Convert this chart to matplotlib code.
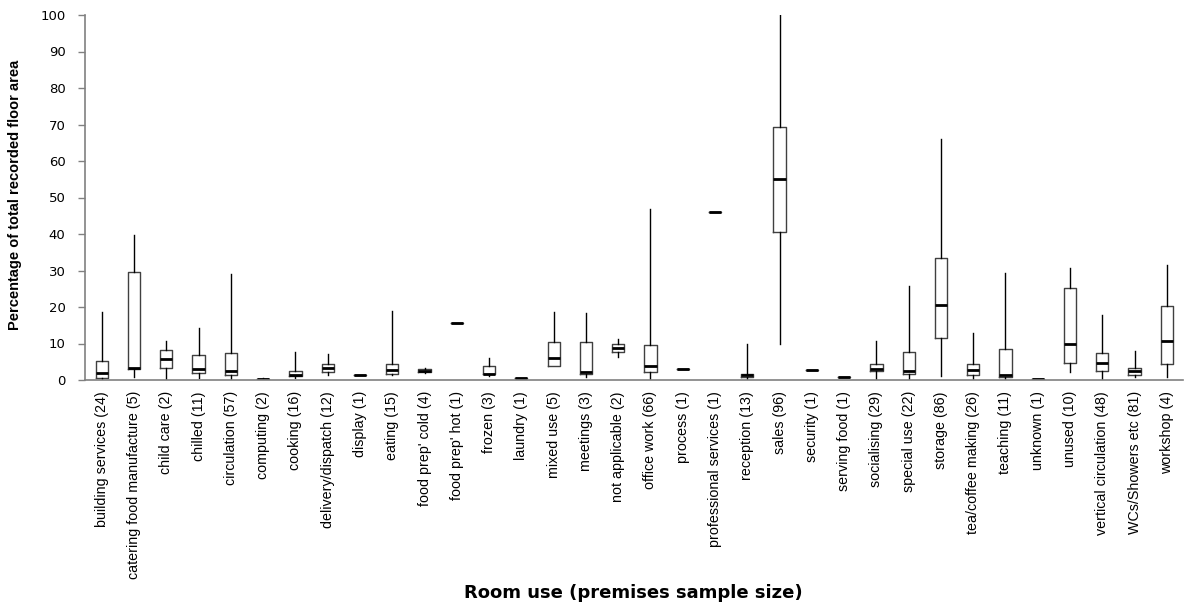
import matplotlib
matplotlib.use("Agg")
import matplotlib.pyplot as plt

categories = ["building services (24)", "catering food manufacture (5)", "child care (2)",
              "chilled (11)", "circulation (57)", "computing (2)", "cooking (16)",
              "delivery/dispatch (12)", "display (1)", "eating (15)", "food prep' cold (4)",
              "food prep' hot (1)", "frozen (3)", "laundry (1)", "mixed use (5)", "meetings (3)",
              "not applicable (2)", "office work (66)", "process (1)", "professional services (1)",
              "reception (13)", "sales (96)", "security (1)", "serving food (1)", "socialising (29)",
              "special use (22)", "storage (86)", "tea/coffee making (26)", "teaching (11)",
              "unknown (1)", "unused (10)", "vertical circulation (48)", "WCs/Showers etc (81)",
              "workshop (4)"]

whisker_low = [0.3, 0.9, 0.2, 0.6, 0.3, 0.1, 0.5, 1.4, 1.3, 1.5, 1.9, 15.6, 1.0, 0.64, 3.7, 0.7,
               6.3, 0.3, 3.1, 46.1, 0.1, 9.75, 2.7, 0.8, 0.3, 0.3, 1.1, 0.3, 0.3, 0.3, 2.3, 0.3,
               0.7, 0.9]
q1 = [0.6, 3.0, 3.2, 2.0, 1.5, 0.15, 1.2, 2.2, 1.3, 1.7, 2.3, 15.6, 1.55, 0.64, 3.9, 1.55,
      7.7, 2.2, 3.1, 46.1, 0.9, 40.6, 2.7, 0.8, 2.6, 1.55, 11.4, 1.4, 0.8, 0.3, 4.6, 2.5,
      1.4, 4.4]
median = [1.9, 3.3, 5.75, 3.0, 2.5, 0.3, 1.5, 3.3, 1.3, 2.8, 2.6, 15.6, 1.7, 0.64, 6.1, 2.1,
          8.9, 3.9, 3.1, 46.1, 1.3, 55.0, 2.7, 0.8, 2.9, 2.5, 20.5, 2.7, 1.3, 0.3, 9.75, 4.75,
          2.5, 10.8]
q3 = [5.2, 29.7, 8.2, 6.8, 7.5, 0.4, 2.6, 4.3, 1.3, 4.5, 3.0, 15.6, 3.75, 0.64, 10.5, 10.3,
      10.0, 9.6, 3.1, 46.1, 1.6, 69.3, 2.7, 0.8, 4.5, 7.8, 33.3, 4.5, 8.6, 0.3, 25.1, 7.5,
      3.4, 20.2]
whisker_high = [18.5, 39.6, 10.8, 14.3, 29.0, 0.5, 7.7, 7.1, 1.3, 18.9, 3.3, 15.6, 5.9, 0.64,
                18.5, 18.4, 11.1, 46.8, 3.1, 46.1, 10.0, 100.0, 2.7, 0.8, 10.8, 25.7, 65.9,
                13.0, 29.4, 0.3, 30.6, 17.7, 7.9, 31.4]

y_ticks = list(range(0, 101, 10))

W, H = 1185, 604
fig = plt.figure(figsize=(W / 100, H / 100), dpi=100)
ax = fig.add_axes([85 / W, 1 - 380 / H, (1183 - 85) / W, (380 - 15) / H])

stats = []
for i, c in enumerate(categories):
    stats.append(dict(label=c, whislo=whisker_low[i], q1=q1[i], med=median[i],
                      q3=q3[i], whishi=whisker_high[i], fliers=[]))

ax.bxp(stats, positions=range(len(categories)), widths=0.38, showfliers=False,
       showcaps=False,
       boxprops=dict(color="#404040", linewidth=1.0),
       medianprops=dict(color="black", linewidth=2.0, solid_capstyle="butt"),
       whiskerprops=dict(color="black", linewidth=1.0))

ax.set_xlim(-0.52, len(categories) - 0.5)
ax.set_ylim(0, 100)
ax.set_yticks(y_ticks)
ax.set_yticklabels([str(v) for v in y_ticks], fontsize=9.5, family="DejaVu Sans")

ax.set_xticks(range(len(categories)))
ax.set_xticklabels(categories, rotation=90, fontsize=10.3, family="Liberation Sans")
ax.tick_params(axis="x", length=0, pad=8)
ax.tick_params(axis="y", length=5, width=1, color="#808080", pad=9)

for s in ["top", "right"]:
    ax.spines[s].set_visible(False)
for s in ["left", "bottom"]:
    ax.spines[s].set_color("#808080")
    ax.spines[s].set_linewidth(1.2)

fig.text(15 / W, 1 - 195 / H, "Percentage of total recorded floor area", rotation=90,
         ha="center", va="center", fontsize=10.5, fontweight="bold", family="Liberation Sans")
fig.text(633 / W, 1 - 593 / H, "Room use (premises sample size)", ha="center", va="center",
         fontsize=13, fontweight="bold", family="DejaVu Sans")

fig.savefig("out.png", dpi=100)
